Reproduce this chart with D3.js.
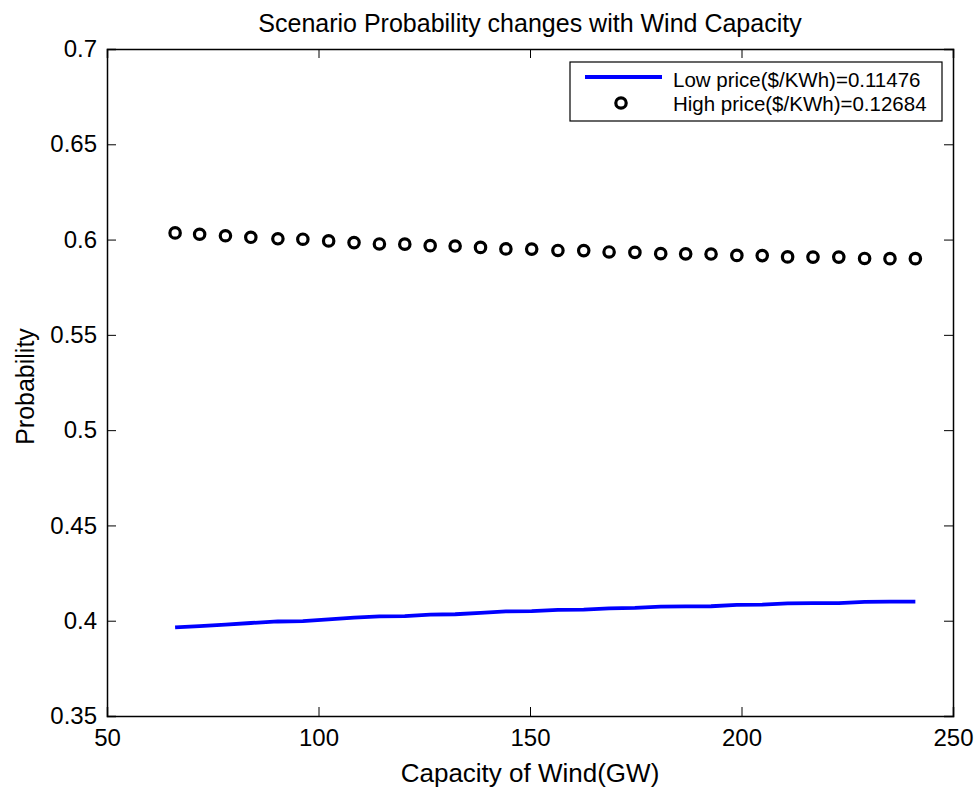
<!DOCTYPE html>
<html>
<head>
<meta charset="utf-8">
<script src="https://cdn.jsdelivr.net/npm/d3@7/dist/d3.min.js"></script>
<style>
  body { margin: 0; background: #fff; }
  svg { display: block; }
  text { font-family: "Liberation Sans", Arial, Helvetica, sans-serif; fill: #000; }
</style>
</head>
<body>
<svg id="chart" width="979" height="788"></svg>
<script>
// ---- data ----
const capacity = [66.1, 71.9, 78.0, 84.0, 90.4, 96.3, 102.4, 108.4, 114.4, 120.4,
                  126.4, 132.3, 138.3, 144.3, 150.4, 156.6, 162.7, 168.7, 174.8, 180.9,
                  186.8, 192.8, 198.9, 204.9, 210.9, 216.9, 223.0, 229.1, 235.1, 241.1];
const lowPrice = [0.3965, 0.3972, 0.3980, 0.3988, 0.3996, 0.3998, 0.4007, 0.4016, 0.4023, 0.4024,
                  0.4032, 0.4034, 0.4041, 0.4049, 0.4050, 0.4057, 0.4058, 0.4065, 0.4067, 0.4074,
                  0.4075, 0.4076, 0.4083, 0.4084, 0.4091, 0.4092, 0.4092, 0.4099, 0.4100, 0.4100];
const highPrice = [0.6035, 0.6028, 0.6020, 0.6012, 0.6004, 0.6002, 0.5993, 0.5984, 0.5977, 0.5976,
                   0.5968, 0.5966, 0.5959, 0.5951, 0.5950, 0.5943, 0.5942, 0.5935, 0.5933, 0.5926,
                   0.5925, 0.5924, 0.5917, 0.5916, 0.5909, 0.5908, 0.5908, 0.5901, 0.5900, 0.5900];
const xTicks = [50, 100, 150, 200, 250];
const yTicks = [0.35, 0.4, 0.45, 0.5, 0.55, 0.6, 0.65, 0.7];
const seriesNames = ["Low price($/KWh)=0.11476", "High price($/KWh)=0.12684"];
const titleText = "Scenario Probability changes with Wind Capacity";
const xLabelText = "Capacity of Wind(GW)";
const yLabelText = "Probability";

// ---- layout ----
const svg = d3.select("#chart");
const L = 107, R = 953, T = 49, B = 716;
const x = d3.scaleLinear().domain([50, 250]).range([L, R]);
const y = d3.scaleLinear().domain([0.35, 0.7]).range([B, T]);
const tickLen = 9;

const g = svg.append("g");

const axB = d3.axisBottom(x).tickValues(xTicks).tickSize(-tickLen).tickPadding(13).tickFormat(d3.format("d"));
const axT = d3.axisTop(x).tickValues(xTicks).tickSize(-tickLen).tickFormat("");
const axL = d3.axisLeft(y).tickValues(yTicks).tickSize(-tickLen).tickPadding(10).tickFormat(d => String(+d));
const axR = d3.axisRight(y).tickValues(yTicks).tickSize(-tickLen).tickFormat("");

function style(sel) {
  sel.select(".domain").attr("stroke", "#000").attr("stroke-width", 1.5);
  sel.selectAll(".tick line").attr("stroke", "#000").attr("stroke-width", 1);
  sel.selectAll(".tick text").attr("font-size", 24).attr("font-family", "Liberation Sans, Arial, sans-serif").attr("fill", "#000");
}
g.append("g").attr("transform", `translate(0,${B})`).call(axB).call(style);
g.append("g").attr("transform", `translate(0,${T})`).call(axT).call(style);
g.append("g").attr("transform", `translate(${L},0)`).call(axL).call(style);
g.append("g").attr("transform", `translate(${R},0)`).call(axR).call(style);

// low price line
const line = d3.line().x((d, i) => x(capacity[i])).y(d => y(d));
g.append("path").datum(lowPrice)
  .attr("d", line).attr("fill", "none").attr("stroke", "#0000ff").attr("stroke-width", 3.8);

// high price circles
g.selectAll("circle.hp").data(highPrice).enter().append("circle")
  .attr("class", "hp")
  .attr("cx", (d, i) => x(capacity[i])).attr("cy", d => y(d))
  .attr("r", 5.2).attr("fill", "none").attr("stroke", "#000").attr("stroke-width", 3.2);

// title and labels
svg.append("text").attr("x", (L + R) / 2).attr("y", 32).attr("text-anchor", "middle")
  .attr("font-size", 25).text(titleText);
svg.append("text").attr("x", (L + R) / 2).attr("y", 782).attr("text-anchor", "middle")
  .attr("font-size", 26).text(xLabelText);
svg.append("text").attr("transform", `translate(34,${(T + B) / 2 + 4}) rotate(-90)`).attr("text-anchor", "middle")
  .attr("font-size", 25).text(yLabelText);

// legend
const leg = svg.append("g");
leg.append("rect").attr("x", 570).attr("y", 62).attr("width", 372).attr("height", 59)
  .attr("fill", "#fff").attr("stroke", "#000").attr("stroke-width", 1.2);
leg.append("line").attr("x1", 585).attr("x2", 662).attr("y1", 77).attr("y2", 77)
  .attr("stroke", "#0000ff").attr("stroke-width", 3.8);
leg.append("circle").attr("cx", 621).attr("cy", 103).attr("r", 5.2)
  .attr("fill", "none").attr("stroke", "#000").attr("stroke-width", 3.2);
leg.append("text").attr("x", 673).attr("y", 87).attr("font-size", 20.5).text(seriesNames[0]);
leg.append("text").attr("x", 673).attr("y", 111).attr("font-size", 20.5).text(seriesNames[1]);
</script>
</body>
</html>
